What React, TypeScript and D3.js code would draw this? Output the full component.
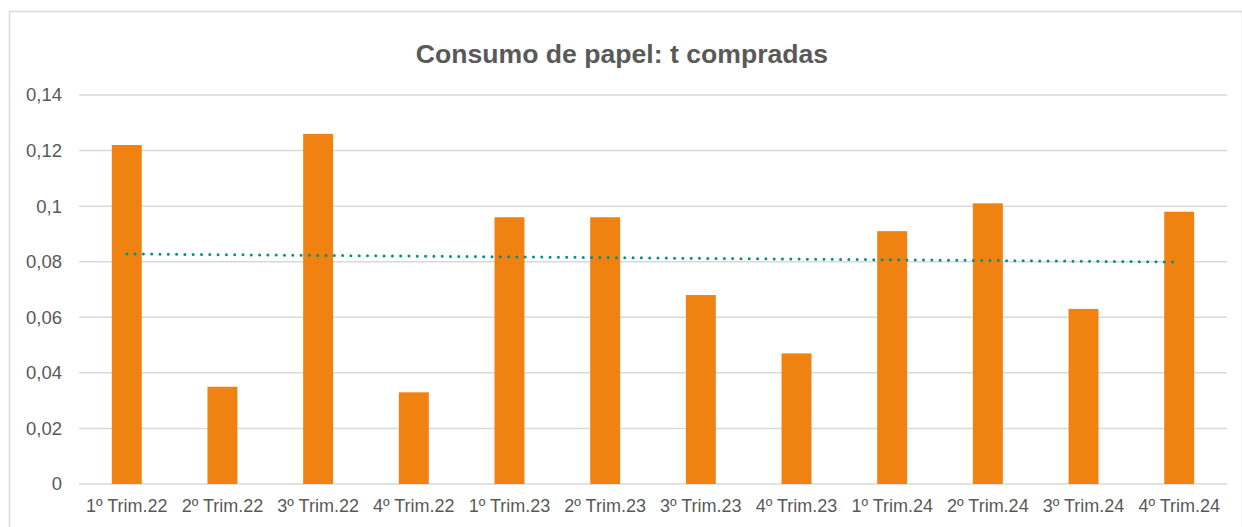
import React, { useEffect, useRef } from 'react';
import * as d3 from 'd3';

const categories = [
    '1º Trim.22', '2º Trim.22', '3º Trim.22', '4º Trim.22',
    '1º Trim.23', '2º Trim.23', '3º Trim.23', '4º Trim.23',
    '1º Trim.24', '2º Trim.24', '3º Trim.24', '4º Trim.24',
];
const values = [0.122, 0.035, 0.126, 0.033, 0.096, 0.096, 0.068, 0.047, 0.091, 0.101, 0.063, 0.098];
// linear trend line at first and last category
const trendValues = [0.0828, 0.0799];
const yTicks = [0, 0.02, 0.04, 0.06, 0.08, 0.1, 0.12, 0.14];

const App: React.FC = () => {
    const ref = useRef<SVGSVGElement | null>(null);

    useEffect(() => {
        if (!ref.current) return;
        const width = 1242;
        const height = 527;
        const margin = { top: 95, right: 15, bottom: 43, left: 79 };
        const textColor = '#595959';
        const font = '"Liberation Sans", Arial, sans-serif';

        const svg = d3.select(ref.current);
        svg.selectAll('*').remove();

        svg.append('rect')
            .attr('x', 9.5).attr('y', 11.5)
            .attr('width', width - 9).attr('height', height)
            .attr('fill', '#fff').attr('stroke', '#d9d9d9').attr('stroke-width', 1.5);

        const x = d3.scaleBand<string>()
            .domain(categories)
            .range([margin.left, width - margin.right])
            .paddingInner(0.687).paddingOuter(0.343);

        const y = d3.scaleLinear()
            .domain([0, 0.14])
            .range([height - margin.bottom, margin.top]);

        // gridlines
        svg.append('g')
            .selectAll('line')
            .data(yTicks)
            .join('line')
            .attr('x1', margin.left).attr('x2', width - margin.right)
            .attr('y1', d => y(d)).attr('y2', d => y(d))
            .attr('stroke', '#d9d9d9').attr('stroke-width', 1.5);

        // y labels
        svg.append('g')
            .selectAll('text')
            .data(yTicks)
            .join('text')
            .attr('x', 62).attr('y', d => y(d))
            .attr('dy', '0.35em')
            .attr('text-anchor', 'end')
            .attr('fill', textColor)
            .style('font-family', font).style('font-size', '18.5px')
            .text(d => d3.format('.2~f')(d).replace('.', ','));

        // bars
        svg.append('g')
            .selectAll('rect')
            .data(values)
            .join('rect')
            .attr('x', (_, i) => x(categories[i])!)
            .attr('width', x.bandwidth())
            .attr('y', d => y(d))
            .attr('height', d => y(0) - y(d))
            .attr('fill', '#ef8210');

        // x labels
        svg.append('g')
            .selectAll('text')
            .data(categories)
            .join('text')
            .attr('x', d => x(d)! + x.bandwidth() / 2)
            .attr('y', 512)
            .attr('text-anchor', 'middle')
            .attr('fill', textColor)
            .style('font-family', font).style('font-size', '18px')
            .text(d => d);

        // trend line
        const first = categories[0];
        const last = categories[categories.length - 1];
        svg.append('line')
            .attr('x1', x(first)! + x.bandwidth() / 2)
            .attr('x2', x(last)! + x.bandwidth() / 2)
            .attr('y1', y(trendValues[0]))
            .attr('y2', y(trendValues[1]))
            .attr('stroke', '#00908a')
            .attr('stroke-width', 3)
            .attr('stroke-linecap', 'round')
            .attr('stroke-dasharray', '0 8.3');

        // title
        svg.append('text')
            .attr('x', 622).attr('y', 63)
            .attr('text-anchor', 'middle')
            .attr('fill', textColor)
            .style('font-family', font).style('font-size', '26.6px').style('font-weight', 'bold')
            .text('Consumo de papel: t compradas');
    }, []);

    return (
        <svg ref={ref} width={1242} height={527}
            style={{ position: 'absolute', left: 0, top: 0, background: '#fff' }} />
    );
};

export default App;
